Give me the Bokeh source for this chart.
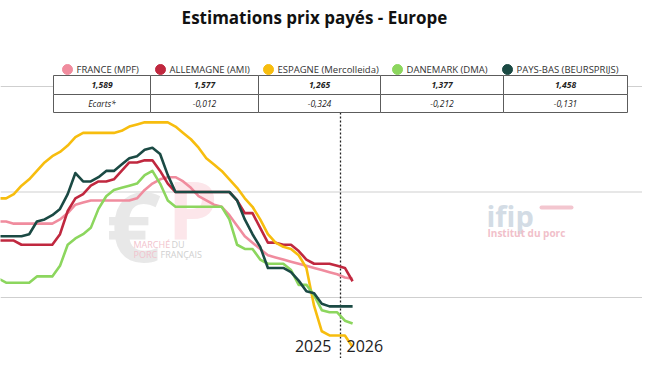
import pandas as pd
from bokeh.plotting import figure
from bokeh.models import Range1d, Span
from bokeh.core.properties import value
from bokeh.embed import file_html
from bokeh.resources import INLINE

# ---------------- data ----------------
weeks = pd.date_range("2025-02-24", "2026-01-12", freq="7D")

france = [1.86, 1.86, 1.85, 1.85, 1.85, 1.85, 1.85, 1.85, 1.87, 1.90, 1.94, 1.95,
          1.96, 1.96, 1.96, 1.96, 1.96, 1.96, 1.97, 2.01, 2.04, 2.06, 2.07, 2.07,
          2.05, 2.02, 1.98, 1.96, 1.94, 1.93, 1.89, 1.84, 1.79, 1.76, 1.73, 1.70,
          1.69, 1.68, 1.67, 1.66, 1.65, 1.64, 1.63, 1.62, 1.61, 1.595, 1.589]
allemagne = [1.77, 1.77, 1.77, 1.75, 1.75, 1.75, 1.75, 1.75, 1.80, 1.91, 1.97, 1.99,
             2.03, 2.05, 2.05, 2.06, 2.10, 2.14, 2.14, 2.15, 2.15, 2.10, 2.04, 2.00,
             2.00, 2.00, 2.00, 2.00, 2.00, 2.00, 2.00, 1.96, 1.90, 1.90, 1.83, 1.76,
             1.76, 1.75, 1.75, 1.72, 1.68, 1.66, 1.66, 1.66, 1.65, 1.64, 1.577]
espagne = [1.97, 1.97, 1.99, 2.03, 2.06, 2.10, 2.14, 2.17, 2.19, 2.22, 2.26, 2.28,
           2.28, 2.28, 2.28, 2.28, 2.29, 2.31, 2.32, 2.33, 2.33, 2.33, 2.33, 2.31,
           2.28, 2.25, 2.21, 2.16, 2.13, 2.10, 2.06, 2.02, 1.97, 1.93, 1.87, 1.80,
           1.76, 1.74, 1.73, 1.70, 1.64, 1.46, 1.34, 1.32, 1.32, 1.32, 1.265]
danemark = [1.59, 1.57, 1.57, 1.57, 1.57, 1.60, 1.60, 1.60, 1.65, 1.75, 1.78, 1.80,
            1.83, 1.92, 1.98, 2.01, 2.02, 2.03, 2.04, 2.08, 2.10, 2.04, 1.96, 1.93,
            1.93, 1.93, 1.93, 1.93, 1.93, 1.93, 1.87, 1.75, 1.73, 1.73, 1.68, 1.66,
            1.66, 1.66, 1.63, 1.56, 1.56, 1.51, 1.44, 1.43, 1.43, 1.39, 1.377]
pays_bas = [1.79, 1.79, 1.79, 1.79, 1.80, 1.86, 1.87, 1.89, 1.92, 1.99, 2.09, 2.05,
            2.05, 2.07, 2.10, 2.10, 2.13, 2.16, 2.17, 2.20, 2.21, 2.18, 2.08, 2.00,
            2.00, 2.00, 2.00, 2.00, 2.00, 2.00, 2.00, 1.96, 1.87, 1.80, 1.74, 1.64,
            1.64, 1.64, 1.62, 1.58, 1.53, 1.52, 1.47, 1.458, 1.458, 1.458, 1.458]

series_names = ["FRANCE (MPF)", "ALLEMAGNE (AMI)", "ESPAGNE (Mercolleida)",
                "DANEMARK (DMA)", "PAYS-BAS (BEURSPRIJS)"]
series_values = [france, allemagne, espagne, danemark, pays_bas]
colors = ["#f08c9e", "#c0283f", "#f7bd0e", "#8cd65e", "#1b4a44"]
last_prices = ["1,589", "1,577", "1,265", "1,377", "1,458"]
ecarts = ["Ecarts*", "-0,012", "-0,324", "-0,212", "-0,131"]
year_labels = ["2025", "2026"]
y_grid = [1.5, 2.0, 2.5]
year_break = "2026-01-01"
title = "Estimations prix payés - Europe"

# ---------------- layout helpers (canvas pixels -> data) ----------------
DAY = 86400000.0
W, H = 642, 358


def ms(d):
    return pd.Timestamp(d).value / 1e6


BREAK = ms(year_break)


def X(px):
    return BREAK + (px - 340) / 1.1 * DAY


def Y(py):
    return 1.5 + (297 - py) / 211.0


FONT = value("Open Sans")

p = figure(width=W, height=H,
           x_range=Range1d(X(0), X(W)), y_range=Range1d(Y(H), Y(0)),
           x_axis_location=None, y_axis_location=None,
           toolbar_location=None, output_backend="svg",
           min_border=0, outline_line_color=None)
p.grid.visible = False

for v in y_grid:
    p.add_layout(Span(location=v, dimension="width", line_color="#cfcfcf",
                      line_width=1, level="underlay"))

# ---------------- watermarks ----------------
p.text(x=[X(133)], y=[Y(224)], text=["€"], text_font=FONT, text_font_style="bold",
       text_font_size=value("96px"), text_color="#e8e8e8", text_align="center",
       text_baseline="middle")
p.text(x=[X(192)], y=[Y(208)], text=["P"], text_font=FONT, text_font_style="bold",
       text_font_size=value("80px"), text_color="#fce6ea", text_align="center",
       text_baseline="middle")
p.text(x=[X(133)], y=[Y(244)], text=["MARCHÉ"], text_font=FONT,
       text_font_size=value("9px"), text_color="#f2c3cd", text_baseline="middle")
p.text(x=[X(171)], y=[Y(244)], text=["DU"], text_font=FONT,
       text_font_size=value("9px"), text_color="#cfcfcf", text_baseline="middle")
p.text(x=[X(133)], y=[Y(254)], text=["PORC"], text_font=FONT,
       text_font_size=value("9px"), text_color="#f2c3cd", text_baseline="middle")
p.text(x=[X(160)], y=[Y(254)], text=["FRANÇAIS"], text_font=FONT,
       text_font_size=value("9px"), text_color="#cfcfcf", text_baseline="middle")

p.text(x=[X(486)], y=[Y(215)], text=["ifip"], text_font=FONT, text_font_style="bold",
       text_font_size=value("29px"), text_color="#d3dce5", text_baseline="alphabetic")
p.segment(x0=[X(541)], y0=[Y(207)], x1=[X(571)], y1=[Y(207)],
          line_color="#f3c6cf", line_width=4, line_cap="round")
p.text(x=[X(487)], y=[Y(232)], text=["Institut du porc"], text_font=FONT,
       text_font_style="bold", text_font_size=value("10px"), text_color="#f1c0ca",
       text_baseline="middle")

# ---------------- year divider ----------------
p.segment(x0=[BREAK], y0=[Y(112)], x1=[BREAK], y1=[Y(H + 5)],
          line_color="#222222", line_width=1.3, line_dash="2 2")

# ---------------- series ----------------
xs = [ms(d) for d in weeks]
for vals, col in zip(series_values, colors):
    p.line(xs, vals, line_color=col, line_width=2.6, line_join="round")

# ---------------- year labels ----------------
p.text(x=[BREAK], y=[Y(351)], text=[year_labels[0]], x_offset=-9, text_font=FONT,
       text_font_size=value("16px"), text_color="#222222", text_align="right",
       text_baseline="bottom")
p.text(x=[BREAK], y=[Y(351)], text=[year_labels[1]], x_offset=6, text_font=FONT,
       text_font_size=value("16px"), text_color="#222222", text_align="left",
       text_baseline="bottom")

# ---------------- title ----------------
p.text(x=[X(314)], y=[Y(17)], text=[title], text_font=FONT, text_font_style="bold",
       text_font_size=value("17px"), text_color="#111111", text_align="center",
       text_baseline="middle")

# ---------------- table ----------------
cols = [53, 150, 258, 380, 503, 627]
rows = [75, 94, 112]
left, right, top, bottom = [], [], [], []
for r in range(2):
    for c in range(5):
        left.append(X(cols[c]))
        right.append(X(cols[c + 1]))
        top.append(Y(rows[r]))
        bottom.append(Y(rows[r + 1]))
p.quad(left=left, right=right, top=top, bottom=bottom, fill_color="white",
       line_color="#5c5c5c", line_width=1)

mids = [X((cols[c] + cols[c + 1]) / 2) for c in range(5)]
p.text(x=mids, y=[Y(84.5)] * 5, text=last_prices, text_font=FONT,
       text_font_style="bold italic", text_font_size=value("8.5px"),
       text_color="#222222", text_align="center", text_baseline="middle")
p.text(x=mids, y=[Y(103)] * 5, text=ecarts, text_font=FONT,
       text_font_style="italic", text_font_size=value("8.5px"),
       text_color="#222222", text_align="center", text_baseline="middle")

leg_px = [67, 160, 268, 397, 507]
p.scatter(x=[X(v) for v in leg_px], y=[Y(69)] * 5, size=10, marker="circle",
          fill_color=colors, line_color=colors)
p.text(x=[X(v + 9) for v in leg_px], y=[Y(69)] * 5, text=series_names, text_font=FONT,
       text_font_size=value("9.5px"), text_color="#333333", text_align="left",
       text_baseline="middle")

open("out.html", "w").write(file_html(p, INLINE))
